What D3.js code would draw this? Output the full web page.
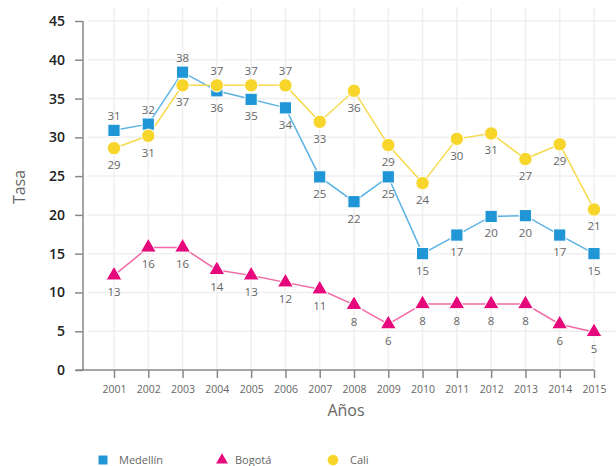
<!DOCTYPE html>
<html><head><meta charset="utf-8">
<script src="https://cdn.jsdelivr.net/npm/d3@7"></script>
<style>body{margin:0;background:#fff}svg{display:block}text{font-family:"Open Sans",Lato,sans-serif}</style>
</head><body>
<svg id="c" width="616" height="466"></svg>
<script>
const years = [2001,2002,2003,2004,2005,2006,2007,2008,2009,2010,2011,2012,2013,2014,2015];
const medellin = [30.9,31.7,38.4,36.0,34.9,33.8,24.9,21.7,24.9,15.0,17.4,19.8,19.9,17.4,15.0];
const bogota = [12.2,15.8,15.8,12.9,12.2,11.3,10.4,8.4,5.9,8.5,8.5,8.5,8.5,5.9,4.9];
const cali = [28.6,30.2,36.7,36.7,36.7,36.7,32.0,36.0,29.0,24.1,29.8,30.5,27.2,29.1,20.7];
const medellinLabels = ["31","32","38","36","35","34","25","22","25","15","17","20","20","17","15"];
const bogotaLabels = ["13","16","16","14","13","12","11","8","6","8","8","8","8","6","5"];
const caliLabels = ["29","31","37","37","37","37","33","36","29","24","30","31","27","29","21"];
const medellinAbove = [1,1,1,0,0,0,0,0,0,0,0,0,0,0,0];
const caliAbove = [0,0,0,1,1,1,0,0,0,0,0,0,0,0,0];
const yTicks = [0,5,10,15,20,25,30,35,40,45];

const svg = d3.select("#c");
const x = d3.scalePoint().domain(years).range([114,594]);
const y = d3.scaleLinear().domain([0,45]).range([370,21]);

// grid
svg.append("g").selectAll("line").data(yTicks.slice(1)).join("line")
  .attr("x1",88).attr("x2",616).attr("y1",d=>y(d)).attr("y2",d=>y(d))
  .attr("stroke","#efefef").attr("stroke-width",1.5);
svg.append("g").selectAll("line").data(years).join("line")
  .attr("x1",d=>x(d)).attr("x2",d=>x(d)).attr("y1",7).attr("y2",370)
  .attr("stroke","#efefef").attr("stroke-width",1.5);

// y axis
const ya = svg.append("g").attr("transform","translate(83,0)")
  .call(d3.axisLeft(y).tickValues(yTicks).tickSize(8).tickPadding(10));
ya.select(".domain").attr("stroke","#888").attr("stroke-width",1.5).attr("d","M0,"+y(45)+"V"+y(0));
ya.selectAll(".tick line").attr("stroke","#888").attr("stroke-width",1.5);
ya.selectAll(".tick text").attr("fill","#222").attr("font-size",14).attr("font-weight",600);

// x axis
const xa = svg.append("g").attr("transform","translate(0,370)")
  .call(d3.axisBottom(x).tickSize(8).tickPadding(8).tickFormat(d3.format("d")));
xa.select(".domain").attr("stroke","#888").attr("stroke-width",1.5).attr("d","M76,0H"+x(2015));
xa.selectAll(".tick line").attr("stroke","#888").attr("stroke-width",1.5);
xa.selectAll(".tick text").attr("fill","#666").attr("font-size",10.5);

svg.append("text").attr("x",346).attr("y",416).attr("text-anchor","middle")
  .attr("fill","#666").attr("font-size",16).text("Años");
svg.append("text").attr("transform","translate(25,187) rotate(-90)").attr("text-anchor","middle")
  .attr("fill","#666").attr("font-size",16).text("Tasa");

const line = d3.line().x((d,i)=>x(years[i])).y(d=>y(d));
const series = [
  {vals:medellin, labels:medellinLabels, above:medellinAbove, line:"#5cb3e4", fill:"#2196d6", sym:d3.symbolSquare, size:150},
  {vals:bogota, labels:bogotaLabels, above:years.map(()=>0), line:"#f26aa5", fill:"#e5097b", sym:d3.symbolTriangle, size:110},
  {vals:cali, labels:caliLabels, above:caliAbove, line:"#f6da4e", fill:"#f8d52a", sym:d3.symbolCircle, size:140}
];
series.forEach(s=>{
  svg.append("path").attr("d",line(s.vals)).attr("fill","none").attr("stroke",s.line).attr("stroke-width",1.5);
});
series.forEach(s=>{
  svg.append("g").selectAll("path").data(s.vals).join("path")
    .attr("transform",(d,i)=>`translate(${x(years[i])},${y(d)})`)
    .attr("d",d3.symbol(s.sym,s.size)).attr("fill",s.fill).attr("stroke","#fff").attr("stroke-width",1);
});
series.forEach(s=>{
  svg.append("g").selectAll("text").data(s.vals).join("text")
    .attr("x",(d,i)=>x(years[i])).attr("y",(d,i)=>s.above[i]? y(d)-10 : y(d)+21)
    .attr("text-anchor","middle").attr("fill","#666").attr("font-size",11.5)
    .text((d,i)=>s.labels[i]);
});

// legend
const legend = [
  {name:"Medellín", fill:"#2196d6", sym:d3.symbolSquare, size:80, x:103, tx:119},
  {name:"Bogotá", fill:"#e5097b", sym:d3.symbolTriangle, size:60, x:222, tx:235},
  {name:"Cali", fill:"#f8d52a", sym:d3.symbolCircle, size:90, x:333, tx:350}
];
const lg = svg.append("g");
legend.forEach(l=>{
  lg.append("path").attr("transform",`translate(${l.x},460)`).attr("d",d3.symbol(l.sym,l.size)).attr("fill",l.fill);
  lg.append("text").attr("x",l.tx).attr("y",464).attr("fill","#666").attr("font-size",11).text(l.name);
});
</script>
</body></html>
